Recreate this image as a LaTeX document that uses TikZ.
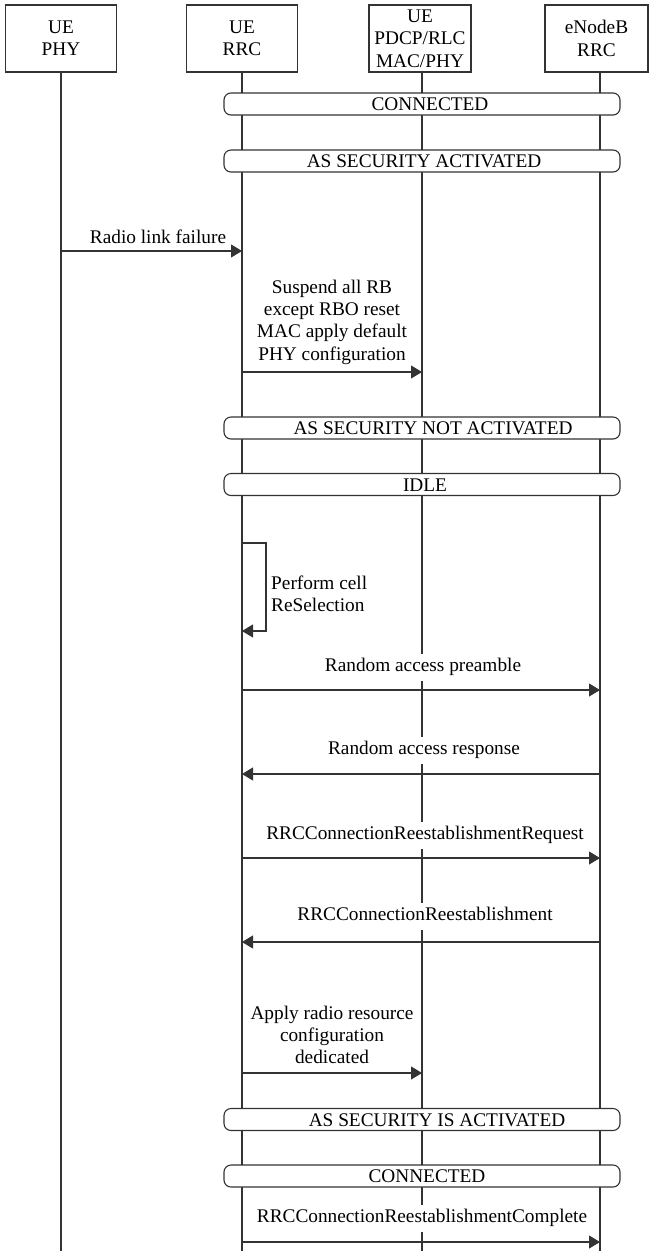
\documentclass[tikz,border=0pt]{standalone}
\usepackage{fontspec}
\setmainfont{Liberation Serif}
\usetikzlibrary{arrows.meta}
\newcommand\diagfont{\fontsize{19.3}{22.3}\selectfont}
\begin{document}
\begin{tikzpicture}[x=1pt,y=-1pt,
  ln/.style={line width=1.1pt, draw=black!80},
  hdr/.style={ln, fill=white, minimum height=67pt, inner sep=0pt, align=center, font=\diagfont},
  life/.style={ln},
  msg/.style={ln, -{Triangle[length=11pt,width=13pt]}},
  statebox/.style={ln, fill=white, rounded corners=7pt, minimum width=396pt, minimum height=22pt, inner sep=0pt},
  statetext/.style={font=\diagfont, inner sep=0pt, text height=13.5pt, text depth=4.5pt},
  lbl/.style={font=\diagfont, fill=white, inner xsep=2pt, inner ysep=4.5pt, text height=13.5pt, text depth=4.5pt},
  note/.style={font=\diagfont, inner sep=1pt, align=center}
]
\useasboundingbox (0,0) rectangle (649,1251);
\fill[white] (0,0) rectangle (649,1251);

% entity headers
\node[hdr, minimum width=111pt] (phy) at (61,38.5) {UE\\PHY};
\node[hdr, minimum width=111pt] (rrc) at (242,38.5) {UE\\RRC};
\node[hdr, minimum width=102pt] (l2)  at (420,38.5) {UE\\PDCP/RLC\\MAC/PHY};
\node[hdr, minimum width=103pt] (enb) at (596.5,38.5) {eNodeB\\RRC};

% lifelines
\coordinate (phyT) at (61,72);  \coordinate (phyB) at (61,1251);
\coordinate (rrcT) at (242,72); \coordinate (rrcB) at (242,1251);
\coordinate (l2T)  at (422,72); \coordinate (l2B)  at (422,1251);
\coordinate (enbT) at (600,72); \coordinate (enbB) at (600,1251);
\draw[life] (phyT) -- (phyB);
\draw[life] (rrcT) -- (rrcB);
\draw[life] (l2T) -- (l2B);
\draw[life] (enbT) -- (enbB);

% state bars
\node[statebox] (st1) at (422,104) {};
\node[statetext] (st1t) at (430,106) {CONNECTED};
\node[statebox] (st2) at (422,161) {};
\node[statetext] (st2t) at (424,163) {AS SECURITY ACTIVATED};
\node[statebox] (st3) at (422,428) {};
\node[statetext] (st3t) at (433,430) {AS SECURITY NOT ACTIVATED};
\node[statebox] (st4) at (422,484.5) {};
\node[statetext] (st4t) at (425,486.5) {IDLE};
\node[statebox] (st5) at (422,1119.5) {};
\node[statetext] (st5t) at (437,1121.5) {AS SECURITY IS ACTIVATED};
\node[statebox] (st6) at (422,1176) {};
\node[statetext] (st6t) at (427,1178) {CONNECTED};

% radio link failure
\coordinate (m1a) at (61,251); \coordinate (m1b) at (242,251);
\draw[msg] (m1a) -- (m1b);
\node[statetext] (m1t) at (158,239) {Radio link failure};

% suspend / reset towards lower layers
\coordinate (m2a) at (242,372); \coordinate (m2b) at (422,372);
\draw[msg] (m2a) -- (m2b);
\node[note] (m2t) at (332,322) {Suspend all RB\\except RBO reset\\MAC apply default\\PHY configuration};

% cell reselection loop
\coordinate (lp1) at (242,543); \coordinate (lp2) at (266,543);
\coordinate (lp3) at (266,631); \coordinate (lp4) at (242,631);
\draw[msg] (lp1) -- (lp2) -- (lp3) -- (lp4);
\node[note, anchor=west, align=left, inner sep=0pt] (lpt) at (271,594) {Perform cell\\ReSelection};

% random access
\coordinate (m3a) at (242,690); \coordinate (m3b) at (600,690);
\draw[msg] (m3a) -- (m3b);
\node[lbl] (m3t) at (423,667) {Random access preamble};
\coordinate (m4a) at (600,774); \coordinate (m4b) at (242,774);
\draw[msg] (m4a) -- (m4b);
\node[lbl] (m4t) at (424,750) {Random access response};

% reestablishment
\coordinate (m5a) at (242,858); \coordinate (m5b) at (600,858);
\draw[msg] (m5a) -- (m5b);
\node[lbl] (m5t) at (425,835) {RRCConnectionReestablishmentRequest};
\coordinate (m6a) at (600,942); \coordinate (m6b) at (242,942);
\draw[msg] (m6a) -- (m6b);
\node[lbl] (m6t) at (425,916) {RRCConnectionReestablishment};

% dedicated configuration
\coordinate (m7a) at (242,1073); \coordinate (m7b) at (422,1073);
\draw[msg] (m7a) -- (m7b);
\node[note] (m7t) at (332,1035) {Apply radio resource\\configuration\\dedicated};

% completion
\coordinate (m8a) at (242,1242); \coordinate (m8b) at (600,1242);
\draw[msg] (m8a) -- (m8b);
\node[lbl] (m8t) at (422,1218) {RRCConnectionReestablishmentComplete};
\end{tikzpicture}
\end{document}
